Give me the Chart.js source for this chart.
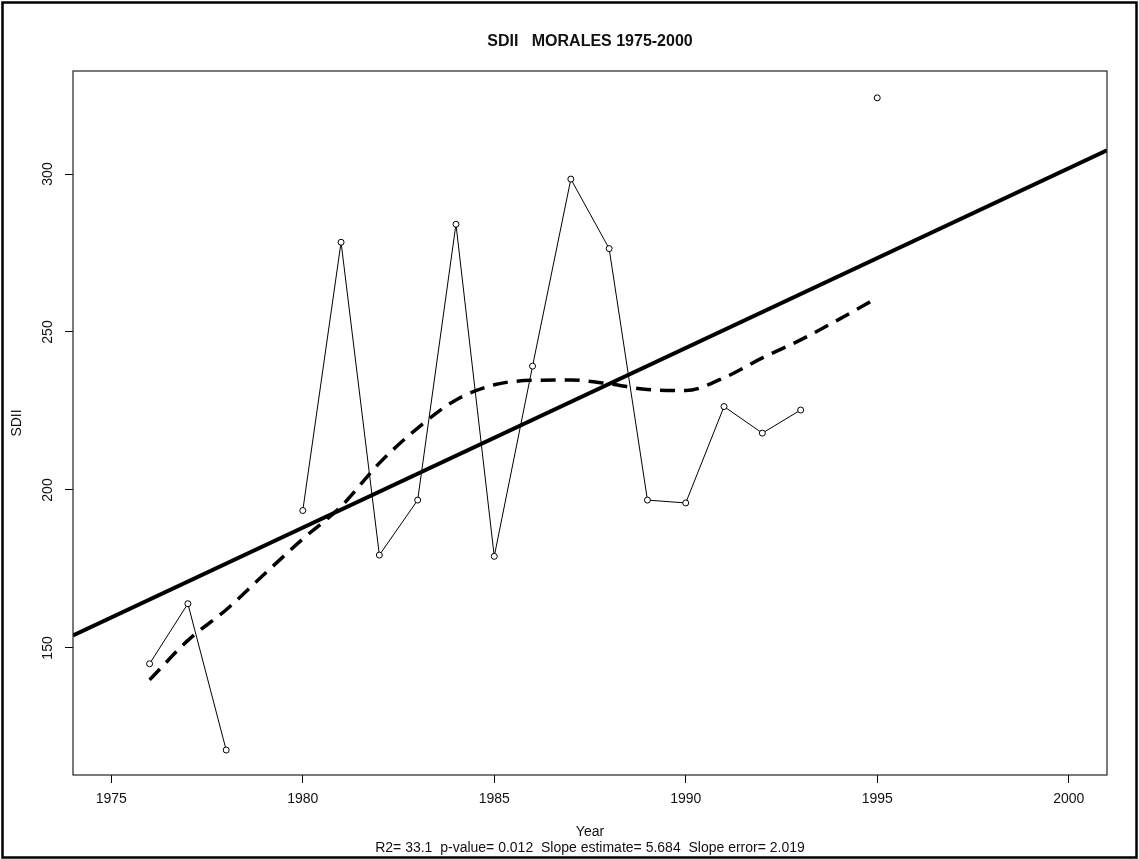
<!DOCTYPE html>
<html>
<head>
<meta charset="utf-8">
<title>SDII MORALES 1975-2000</title>
<script src="https://cdn.jsdelivr.net/npm/chart.js@4.4.1/dist/chart.umd.min.js"></script>
<style>
  html, body { margin: 0; padding: 0; background: #fff; }
  #wrap { width: 1139px; height: 859px; }
</style>
</head>
<body>
<div id="wrap"><canvas id="sdiiChart" width="1139" height="859"></canvas></div>
<script>
// observed SDII per year (null = missing year)
const years = [1976, 1977, 1978, 1979, 1980, 1981, 1982, 1983, 1984, 1985,
               1986, 1987, 1988, 1989, 1990, 1991, 1992, 1993, 1994, 1995];
const sdii = [145.0, 164.0, 117.7, null, 193.5, 278.4, 179.4, 196.8, 284.1, 179.0,
              239.2, 298.4, 276.4, 196.8, 195.9, 226.4, 218.0, 225.3, null, 324.1];

// smoothed curve (dashed)
const smooth = [139.9, 152.4, 162.1, 173.4, 184.5, 194.8, 208.5, 219.6, 228.5, 233.3,
                234.7, 234.8, 233.6, 231.8, 231.5, 235.5, 241.8, 247.5, 254.0, 260.8];

// linear trend, drawn edge to edge
const trendX = [1974, 2001];
const trendY = [154.0, 307.5];

const xTicks = [1975, 1980, 1985, 1990, 1995, 2000];
const yTicks = [150, 200, 250, 300];

const mainTitle = 'SDII   MORALES 1975-2000';
const statsLine = 'R2= 33.1  p-value= 0.012  Slope estimate= 5.684  Slope error= 2.019';

Chart.defaults.font.family = '"Liberation Sans", Arial, sans-serif';
Chart.defaults.color = '#111';

const toPoints = (xs, ys) => xs.map((x, i) => ({ x: x, y: ys[i] }));

// white page, outer frame and the box round the plot
const framePlugin = {
  id: 'frame',
  beforeDraw(chart) {
    const ctx = chart.ctx;
    ctx.save();
    ctx.fillStyle = '#fff';
    ctx.fillRect(0, 0, chart.width, chart.height);
    ctx.restore();
  },
  afterDraw(chart) {
    const { ctx, chartArea } = chart;
    ctx.save();
    ctx.strokeStyle = '#000';
    ctx.lineWidth = 2.5;
    ctx.strokeRect(2.5, 2.5, chart.width - 5, chart.height - 4);
    ctx.lineWidth = 1.2;
    ctx.strokeStyle = '#222';
    ctx.strokeRect(chartArea.left, chartArea.top,
                   chartArea.right - chartArea.left, chartArea.bottom - chartArea.top);
    ctx.restore();
  }
};

const ctx = document.getElementById('sdiiChart').getContext('2d');
new Chart(ctx, {
  type: 'line',
  data: {
    datasets: [
      {
        label: 'SDII',
        data: toPoints(years, sdii),
        borderColor: '#000',
        borderWidth: 1,
        pointRadius: 3,
        pointBorderWidth: 1,
        pointBackgroundColor: '#fff',
        pointBorderColor: '#000',
        spanGaps: false,
        tension: 0
      },
      {
        label: 'trend',
        data: toPoints(trendX, trendY),
        borderColor: '#000',
        borderWidth: 4,
        pointRadius: 0,
        tension: 0
      },
      {
        label: 'smooth',
        data: toPoints(years, smooth),
        borderColor: '#000',
        borderWidth: 3.5,
        borderDash: [15, 9],
        pointRadius: 0,
        cubicInterpolationMode: 'monotone'
      }
    ]
  },
  options: {
    responsive: false,
    animation: false,
    devicePixelRatio: 1,
    layout: { padding: { left: 0, right: 32, top: 0, bottom: 0 } },
    plugins: {
      legend: { display: false },
      tooltip: { enabled: false },
      title: { display: false }
    },
    scales: {
      x: {
        type: 'linear',
        position: 'bottom',
        min: 1974,
        max: 2001,
        afterBuildTicks: (scale) => { scale.ticks = xTicks.map(v => ({ value: v })); },
        afterFit: (scale) => { scale.height = 84; },
        grid: { display: true, drawOnChartArea: false, drawTicks: true, tickLength: 8, color: '#000', tickWidth: 1 },
        border: { display: false },
        ticks: {
          padding: 8,
          maxRotation: 0,
          font: { size: 14 },
          callback: (v) => String(v)
        },
        title: {
          display: true,
          text: ['Year', statsLine],
          font: { size: 14, lineHeight: 1.15 },
          padding: { top: 0, bottom: 3 }
        }
      },
      xTop: {
        type: 'linear',
        position: 'top',
        min: 1974,
        max: 2001,
        afterFit: (scale) => { scale.height = 71; },
        grid: { display: false },
        border: { display: false },
        ticks: { display: false },
        title: {
          display: true,
          text: mainTitle,
          font: { size: 16, weight: 'bold', lineHeight: 1.2 },
          padding: { top: 32.4, bottom: 0 }
        }
      },
      y: {
        type: 'linear',
        position: 'left',
        min: 109.8,
        max: 332.6,
        afterBuildTicks: (scale) => { scale.ticks = yTicks.map(v => ({ value: v })); },
        afterFit: (scale) => { scale.width = 73; },
        grid: { display: true, drawOnChartArea: false, drawTicks: true, tickLength: 8, color: '#000', tickWidth: 1 },
        border: { display: false },
        ticks: {
          padding: 5,
          minRotation: 90,
          maxRotation: 90,
          crossAlign: 'center',
          font: { size: 14 },
          callback: (v) => String(v)
        },
        title: {
          display: true,
          text: 'SDII',
          font: { size: 14, lineHeight: 1.15 },
          padding: { top: 9, bottom: 0 }
        }
      }
    }
  },
  plugins: [framePlugin]
});
</script>
</body>
</html>
